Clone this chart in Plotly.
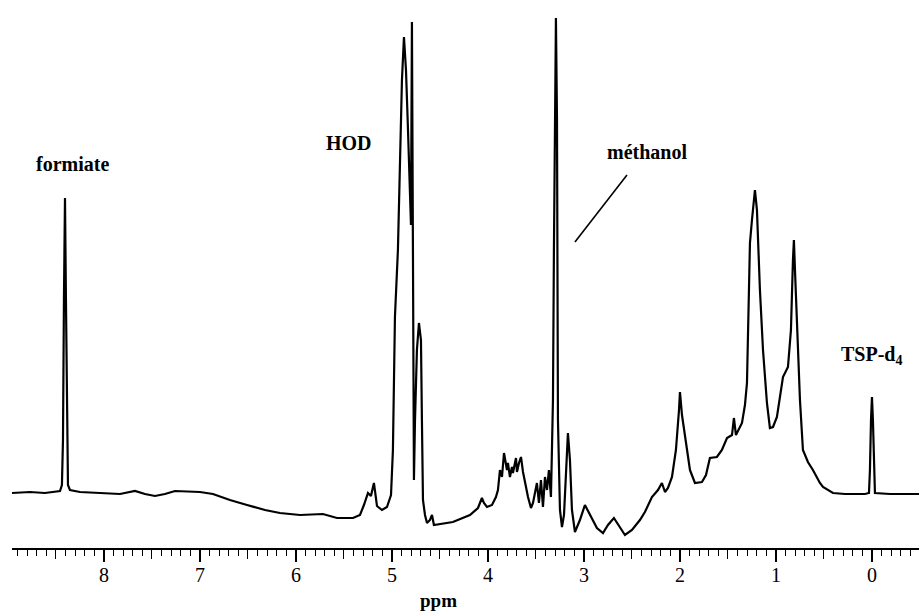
import plotly.graph_objects as go

# 1H NMR spectrum (chemical shift in ppm, intensity in arbitrary units)
ppm = [8.958, 8.771, 8.615, 8.510, 8.458, 8.438, 8.427, 8.417, 8.406, 8.396, 8.385, 8.375, 8.354,
       8.250, 8.042, 7.833, 7.677, 7.573, 7.469, 7.365, 7.260, 7.104, 7.000, 6.865, 6.688, 6.510,
       6.323, 6.167, 5.958, 5.719, 5.573, 5.406, 5.333, 5.292, 5.250, 5.219, 5.188, 5.156, 5.104,
       5.052, 5.010, 4.990, 4.969, 4.938, 4.917, 4.896, 4.875, 4.854, 4.833, 4.813, 4.802, 4.792,
       4.781, 4.771, 4.760, 4.740, 4.719, 4.698, 4.688, 4.677, 4.656, 4.635, 4.604, 4.583, 4.563,
       4.500, 4.365, 4.188, 4.104, 4.063, 4.042, 4.010, 3.958, 3.917, 3.896, 3.875, 3.854, 3.833,
       3.802, 3.792, 3.771, 3.750, 3.740, 3.708, 3.698, 3.677, 3.656, 3.635, 3.615, 3.583, 3.552,
       3.531, 3.490, 3.469, 3.448, 3.427, 3.406, 3.385, 3.365, 3.344, 3.333, 3.323, 3.313, 3.302,
       3.292, 3.281, 3.271, 3.250, 3.229, 3.208, 3.188, 3.167, 3.146, 3.125, 3.094, 3.042, 2.990,
       2.938, 2.865, 2.802, 2.750, 2.688, 2.625, 2.573, 2.500, 2.417, 2.365, 2.292, 2.229, 2.188,
       2.156, 2.125, 2.083, 2.042, 2.010, 2.000, 1.979, 1.958, 1.896, 1.844, 1.771, 1.729, 1.688,
       1.615, 1.563, 1.510, 1.458, 1.438, 1.417, 1.354, 1.323, 1.302, 1.281, 1.271, 1.250, 1.229,
       1.219, 1.198, 1.188, 1.167, 1.135, 1.094, 1.063, 1.031, 0.990, 0.927, 0.875, 0.844, 0.823,
       0.813, 0.802, 0.781, 0.750, 0.719, 0.667, 0.615, 0.542, 0.510, 0.406, 0.281, 0.073, 0.031,
       0.021, 0.010, 0.000, -0.010, -0.021, -0.031, -0.188, -0.490]
intensity = [0, 1, 0, 1, 2, 8, 53, 193, 295, 193, 53, 8, 3,
             1, 0, -1, 2, -1, -3, -1, 2, 1, 1, -1, -7, -12,
             -17, -20, -22, -21, -25, -25, -22, -12, 0, -3, 10, -13, -17,
             -14, -2, 43, 176, 243, 343, 413, 456, 423, 363, 293, 268, 471,
             243, 13, 73, 143, 170, 153, 73, -7, -22, -30, -27, -22, -32,
             -31, -29, -22, -15, -5, -10, -14, -12, -4, 3, 23, 16, 40,
             23, 30, 16, 26, 20, 35, 21, 30, 36, 21, 10, -4, -15,
             -10, 10, -10, 13, -14, 16, 3, 23, -4, 46, 93, 243, 393,
             475, 373, 73, -17, -34, -22, 23, 60, 33, -17, -39, -27, -12,
             -22, -35, -40, -32, -25, -35, -42, -37, -27, -19, -4, 3, 10,
             1, 5, 16, 43, 83, 101, 78, 63, 23, 10, 11, 18, 35,
             36, 43, 55, 58, 75, 58, 70, 88, 110, 193, 250, 273, 298,
             303, 283, 253, 203, 143, 90, 65, 66, 76, 116, 126, 163, 233,
             253, 223, 176, 93, 43, 31, 23, 10, 6, 0, -1, -1, 0,
             23, 73, 96, 73, 13, 0, -1, -1]

major_ticks = [8, 7, 6, 5, 4, 3, 2, 1, 0]
major_labels = ["8", "7", "6", "5", "4", "3", "2", "1", "0"]
half_ticks = [8.5, 7.5, 6.5, 5.5, 4.5, 3.5, 2.5, 1.5, 0.5]

peak_labels = ["formiate", "HOD", "méthanol", "TSP-d<sub>4</sub>"]
label_ppm = [8.333, 5.448, 2.344, 0.01]
label_int = [329, 350, 341, 138]

XR = [8.958, -0.49]
serif = "Liberation Serif, Times New Roman, serif"

fig = go.Figure()
fig.add_trace(go.Scatter(x=ppm, y=intensity, mode="lines",
                         line=dict(color="black", width=2.2), showlegend=False,
                         hoverinfo="skip"))
# invisible trace to activate the overlay axis for the 0.5 ppm ticks
fig.add_trace(go.Scatter(x=[XR[0], XR[1]], y=[0, 0], xaxis="x2", mode="lines",
                         line=dict(width=0), showlegend=False, hoverinfo="skip"))

for txt, xp, yi in zip(peak_labels, label_ppm, label_int):
    fig.add_annotation(x=xp, y=yi, xref="x", yref="y", text="<b>%s</b>" % txt,
                       showarrow=False, xanchor="center", yanchor="middle",
                       font=dict(family=serif, size=20, color="black"))

# pointer line for methanol
fig.add_shape(type="line", xref="x", yref="y", x0=2.552, y0=318, x1=3.094, y1=251,
              line=dict(color="black", width=1.6))

fig.add_annotation(x=4.52, y=-0.097, xref="x", yref="paper", text="<b>ppm</b>",
                   showarrow=False, xanchor="center", yanchor="middle",
                   font=dict(family=serif, size=19, color="black"))

fig.update_layout(
    width=919, height=611,
    margin=dict(l=12, r=0, t=10, b=63, autoexpand=False),
    paper_bgcolor="white", plot_bgcolor="white",
    xaxis=dict(range=XR, showline=True, linecolor="black", linewidth=2,
               showgrid=False, zeroline=False, ticks="outside", ticklen=12,
               tickwidth=1.6, tickcolor="black", tickvals=major_ticks,
               ticktext=major_labels, automargin=False, ticklabelstandoff=-4,
               tickfont=dict(family=serif, size=20, color="black"),
               minor=dict(dtick=0.1, tick0=0, ticks="outside", ticklen=6,
                          tickwidth=1.3, tickcolor="black", showgrid=False)),
    xaxis2=dict(range=XR, overlaying="x", anchor="y", side="bottom",
                showline=False, showgrid=False, zeroline=False, ticks="outside",
                ticklen=10, tickwidth=1.4, tickcolor="black", tickvals=half_ticks,
                showticklabels=False),
    yaxis=dict(range=[-55, 483], visible=False, showgrid=False, zeroline=False),
)

fig.write_html("out.html", config={"displayModeBar": False},
               post_script="document.body.style.margin='0';document.body.style.overflow='hidden';")
